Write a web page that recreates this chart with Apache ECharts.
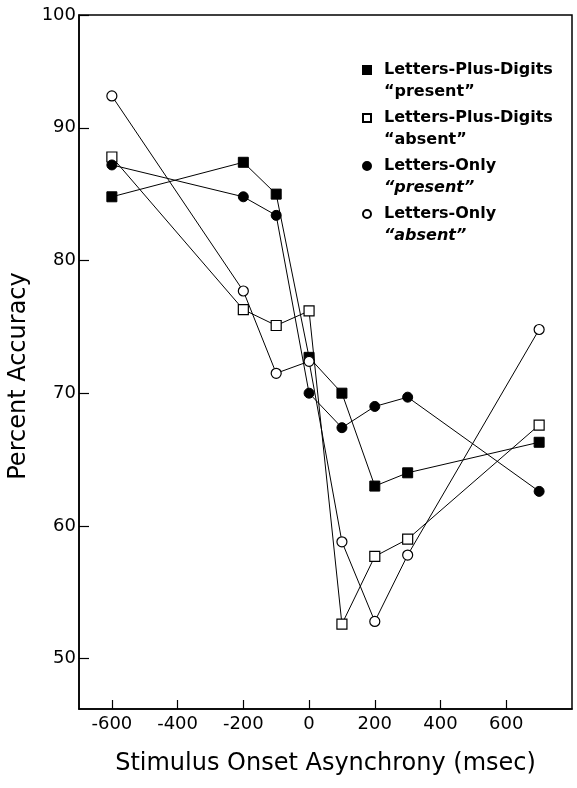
<!DOCTYPE html>
<html>
<head>
<meta charset="utf-8">
<script src="https://cdn.jsdelivr.net/npm/echarts@6/dist/echarts.min.js"></script>
<style>
  html, body { margin: 0; padding: 0; background: #fff; }
  #main { width: 577px; height: 788px; }
</style>
</head>
<body>
<div id="main"></div>
<script>
// SOA values (msec)
const xValues = [-600, -200, -100, 0, 100, 200, 300, 700];

// percent accuracy per condition
const lpdPresent = [84.8, 87.4, 85.0, 72.7, 70.0, 63.0, 64.0, 66.3];
const lpdAbsent  = [87.8, 76.3, 75.1, 76.2, 52.6, 57.7, 59.0, 67.6];
const loPresent  = [87.2, 84.8, 83.4, 70.0, 67.4, 69.0, 69.7, 62.6];
const loAbsent   = [92.4, 77.7, 71.5, 72.4, 58.8, 52.8, 57.8, 74.8];

const seriesNames = ['Letters-Plus-Digits', 'Letters-Plus-Digits', 'Letters-Only', 'Letters-Only'];
const seriesTags  = ['“present”', '“absent”', '“present”', '“absent”'];

const xTickValues = [-600, -400, -200, 0, 200, 400, 600];
const xTickLabels = ['-600', '-400', '-200', '0', '200', '400', '600'];
// top of the frame is labelled 100 in the original
const yTickValues = [50, 60, 70, 80, 90, 98.5];
const yTickLabels = ['50', '60', '70', '80', '90', '100'];

const font = 'DejaVu Sans';
const chart = echarts.init(document.getElementById('main'));

function pairs(ys) {
    return xValues.map((x, i) => [x, ys[i]]);
}

const filled = { color: '#000', borderColor: '#000', borderWidth: 1 };
const hollow = { color: '#fff', borderColor: '#000', borderWidth: 1.2 };

const defs = [
    { data: lpdPresent, symbol: 'rect', size: 10, style: filled, italic: false },
    { data: lpdAbsent, symbol: 'rect', size: 10, style: hollow, italic: false },
    { data: loPresent, symbol: 'circle', size: 10, style: filled, italic: true },
    { data: loAbsent, symbol: 'circle', size: 10, style: hollow, italic: true }
];

const fullNames = seriesNames.map((n, i) => n + ' ' + seriesTags[i]);

const series = defs.map((d, i) => ({
    name: fullNames[i],
    type: 'line',
    data: pairs(d.data),
    symbol: d.symbol,
    symbolSize: d.size,
    showAllSymbol: true,
    itemStyle: d.style,
    lineStyle: { color: '#000', width: 1 },
    emphasis: { disabled: true },
    animation: false,
    z: 2
}));

const option = {
    backgroundColor: '#fff',
    animation: false,
    grid: {
        left: 79, right: 5, top: 15, bottom: 79,
        show: true, borderColor: '#000', borderWidth: 1.5,
        containLabel: false, outerBoundsMode: 'none'
    },
    legend: {
        orient: 'vertical',
        left: 362, top: 62,
        padding: 0,
        itemGap: 10,
        itemWidth: 8, itemHeight: 8,
        selectedMode: false,
        data: fullNames.map((n, i) => ({ name: n, icon: defs[i].symbol })),
        formatter: function (name) {
            const i = fullNames.indexOf(name);
            const tagStyle = defs[i].italic ? 'i' : 'b';
            return '{a|' + seriesNames[i] + '}\n{' + tagStyle + '|' + seriesTags[i] + '}';
        },
        textStyle: {
            padding: [22, 0, 0, 8],
            rich: {
                a: { fontFamily: font, fontSize: 16, fontWeight: 'bold', lineHeight: 22, color: '#000' },
                b: { fontFamily: font, fontSize: 16, fontWeight: 'bold', lineHeight: 22, color: '#000' },
                i: { fontFamily: font, fontSize: 16, fontWeight: 'bold', lineHeight: 22, color: '#000', fontStyle: 'italic' }
            }
        }
    },
    xAxis: {
        type: 'value',
        min: -700, max: 800,
        name: 'Stimulus Onset Asynchrony (msec)',
        nameLocation: 'middle',
        nameGap: 43,
        nameTextStyle: { fontFamily: font, fontSize: 24, color: '#000' },
        axisLine: { show: true, onZero: false, lineStyle: { color: '#000', width: 1.5 } },
        axisTick: { show: true, inside: true, length: 9, customValues: xTickValues, lineStyle: { color: '#000', width: 1.2 } },
        axisLabel: {
            customValues: xTickValues,
            margin: 6,
            fontFamily: font, fontSize: 18, color: '#000',
            formatter: v => xTickLabels[xTickValues.indexOf(v)]
        },
        splitLine: { show: false }
    },
    yAxis: {
        type: 'value',
        min: 46.2, max: 98.5,
        name: 'Percent Accuracy',
        nameLocation: 'middle',
        nameGap: 44,
        nameTextStyle: { fontFamily: font, fontSize: 24, color: '#000', padding: [0, 28, 0, 0] },
        axisLine: { show: true, onZero: false, lineStyle: { color: '#000', width: 1.5 } },
        axisTick: { show: true, inside: true, length: 10, customValues: yTickValues, lineStyle: { color: '#000', width: 1.2 } },
        axisLabel: {
            customValues: yTickValues,
            margin: 3,
            fontFamily: font, fontSize: 18, color: '#000',
            formatter: v => yTickLabels[yTickValues.indexOf(v)]
        },
        splitLine: { show: false }
    },
    series: series
};

chart.setOption(option);
</script>
</body>
</html>
